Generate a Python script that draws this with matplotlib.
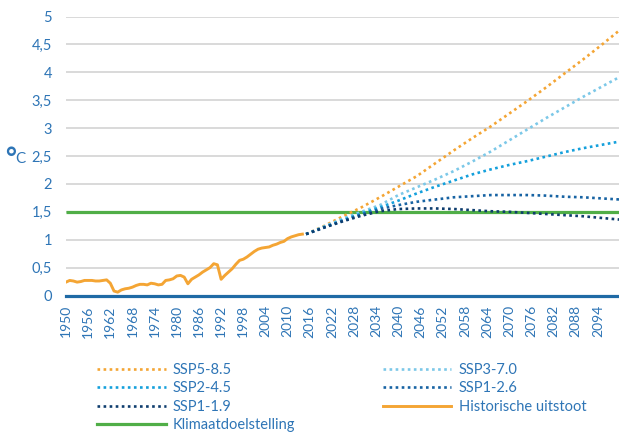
import matplotlib
matplotlib.use("Agg")
import matplotlib.pyplot as plt
from matplotlib.lines import Line2D
from matplotlib.ticker import FuncFormatter

plt.rcParams['font.family'] = ['Lato', 'DejaVu Sans']

# Observed warming 1950-2014 (°C)
hist_years = list(range(1950, 2015))
hist_values = [0.24, 0.27, 0.26, 0.24, 0.25, 0.27, 0.27, 0.27, 0.26, 0.26,
               0.27, 0.28, 0.22, 0.08, 0.06, 0.10, 0.12, 0.13, 0.15, 0.18,
               0.20, 0.20, 0.19, 0.22, 0.21, 0.19, 0.20, 0.27, 0.28, 0.30,
               0.35, 0.36, 0.33, 0.21, 0.29, 0.33, 0.37, 0.42, 0.46, 0.50,
               0.57, 0.55, 0.29, 0.36, 0.42, 0.48, 0.56, 0.63, 0.65, 0.69,
               0.74, 0.79, 0.83, 0.85, 0.86, 0.87, 0.90, 0.92, 0.95, 0.97,
               1.02, 1.05, 1.07, 1.09, 1.10]

# Scenario projections 2015-2100 (°C)
scen_years = list(range(2015, 2101, 5))
ssp585 = [1.10, 1.25, 1.42, 1.58, 1.76, 1.95, 2.14, 2.37, 2.60, 2.82,
          3.03, 3.26, 3.49, 3.73, 3.98, 4.23, 4.49, 4.76]
ssp370 = [1.10, 1.24, 1.38, 1.50, 1.62, 1.80, 1.94, 2.08, 2.23, 2.40,
          2.58, 2.78, 2.98, 3.18, 3.37, 3.56, 3.74, 3.92]
ssp245 = [1.10, 1.23, 1.35, 1.47, 1.58, 1.70, 1.83, 1.95, 2.06, 2.17,
          2.26, 2.34, 2.41, 2.49, 2.57, 2.64, 2.70, 2.76]
ssp126 = [1.10, 1.22, 1.34, 1.45, 1.55, 1.62, 1.68, 1.72, 1.76, 1.78,
          1.80, 1.80, 1.80, 1.79, 1.77, 1.76, 1.74, 1.72]
ssp119 = [1.10, 1.22, 1.33, 1.43, 1.51, 1.55, 1.56, 1.56, 1.55, 1.53,
          1.51, 1.50, 1.48, 1.46, 1.44, 1.42, 1.39, 1.36]

target = 1.5
target_years = [1950, 2100]

x_ticks = list(range(1950, 2100, 6))
y_ticks = [0, 0.5, 1, 1.5, 2, 2.5, 3, 3.5, 4, 4.5, 5]

text_blue = '#2E75B6'
c585 = '#F4A534'
c370 = '#7CC8E8'
c245 = '#14A0DC'
c126 = '#1763A3'
c119 = '#0E3D6E'
c_hist = '#F4A534'
c_target = '#50AE47'

fig = plt.figure(figsize=(6.19, 4.33), dpi=100)
ax = fig.add_axes([66 / 619, 1 - 295.5 / 433, 554 / 619, 279 / 433])

ax.set_xlim(1950, 2100)
ax.set_ylim(0, 5)

for y in y_ticks[1:]:
    ax.axhline(y, color='#D9D9D9', lw=1.4, zorder=1)
ax.axhline(0, color='#1F6AA5', lw=2.3, zorder=6, clip_on=False)

dot = (0, (1, 1.3))
ax.plot(target_years, [target, target], color=c_target, lw=2.3, zorder=2,
        solid_capstyle='butt')
l585, = ax.plot(scen_years, ssp585, color=c585, lw=1.9, ls=dot, zorder=3,
                dash_capstyle='butt')
l370, = ax.plot(scen_years, ssp370, color=c370, lw=1.9, ls=dot, zorder=3,
                dash_capstyle='butt')
l245, = ax.plot(scen_years, ssp245, color=c245, lw=1.9, ls=dot, zorder=3,
                dash_capstyle='butt')
l126, = ax.plot(scen_years, ssp126, color=c126, lw=1.9, ls=dot, zorder=3,
                dash_capstyle='butt')
l119, = ax.plot(scen_years, ssp119, color=c119, lw=1.9, ls=dot, zorder=3,
                dash_capstyle='butt')
lhist, = ax.plot(hist_years, hist_values, color=c_hist, lw=2.1, zorder=4,
                 solid_joinstyle='round')

for s in ax.spines.values():
    s.set_visible(False)

ax.set_xticks(x_ticks)
ax.set_xticklabels([str(v) for v in x_ticks], rotation=90)
ax.set_yticks(y_ticks)
ax.yaxis.set_major_formatter(FuncFormatter(lambda v, p: f"{v:g}".replace('.', ',')))
ax.tick_params(axis='both', length=0, colors=text_blue, labelsize=10)
ax.tick_params(axis='y', labelsize=10.5, pad=10)
ax.tick_params(axis='x', pad=7)

# unit label: large raised degree sign followed by a smaller C
fig.text(5 / 619, 1 - 167 / 433, '°', color=text_blue, fontsize=19,
         va='baseline', ha='left', fontweight='bold')
fig.text(15 / 619, 1 - 163 / 433, 'C', color=text_blue, fontsize=11,
         va='baseline', ha='left')

h_target = Line2D([], [], color=c_target, lw=2.3)
handles = [l585, l245, l119, h_target, l370, l126, lhist]
labels = ['SSP5-8.5', 'SSP2-4.5', 'SSP1-1.9', 'Klimaatdoelstelling',
          'SSP3-7.0', 'SSP1-2.6', 'Historische uitstoot']
fig.legend(handles, labels, ncol=2, loc='upper left',
           bbox_to_anchor=(97 / 619, 1 - 363 / 433), frameon=False,
           fontsize=10.5, labelcolor=text_blue, handlelength=4.7,
           handletextpad=0.5, labelspacing=0.3, columnspacing=6.0,
           borderpad=0, borderaxespad=0)

fig.savefig('out.png', dpi=100)
